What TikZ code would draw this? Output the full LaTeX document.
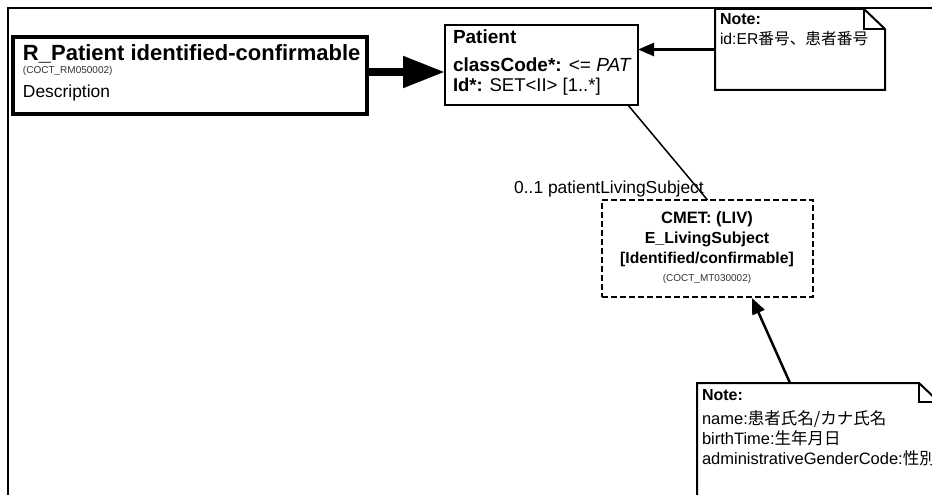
\documentclass[tikz,border=0pt]{standalone}
\usepackage{fontspec}
\setmainfont{Liberation Sans}
\newfontfamily\cjk{Noto Sans CJK JP}
\usetikzlibrary{arrows.meta,calc}
\tikzset{
  txt/.style={inner sep=0pt, outer sep=0pt, anchor=base west},
  ctxt/.style={inner sep=0pt, outer sep=0pt, anchor=base},
  rboxstyle/.style={draw, line width=4pt, rectangle, inner sep=0pt, outer sep=0pt, anchor=north west},
  classbox/.style={draw, line width=2pt, rectangle, inner sep=0pt, outer sep=0pt, anchor=north west},
  cmetbox/.style={draw, line width=2.5pt, dash pattern=on 6pt off 3pt, rectangle, inner sep=0pt, outer sep=0pt, anchor=north west},
  noteframe/.style={rectangle, inner sep=0pt, outer sep=0pt, anchor=north west},
  noteline/.style={line width=2pt, line join=miter},
  bigarrow/.style={line width=8pt, -{Triangle[length=42pt,width=30pt]}},
  notearrow/.style={line width=2.5pt, -{Triangle[length=16pt,width=13pt]}},
  assoc/.style={line width=1.5pt},
  fa/.style={font=\fontsize{#1}{#1}\selectfont},
  fb/.style={font=\bfseries\fontsize{#1}{#1}\selectfont}
}
\begin{document}
\begin{tikzpicture}[x=1pt,y=-1pt]
\useasboundingbox (0,0) rectangle (932,495);
\clip (0,0) rectangle (932,495);
\fill[white] (0,0) rectangle (932,495);
% outer frame
\draw[line width=2pt] (8,495) -- (8,8) -- (932,8);

% R_Patient box
\node[rboxstyle, minimum width=354pt, minimum height=77pt] (rp) at (13,37) {};
\node[txt, fb=22] (rpt) at (23,60) {R\_Patient identified-confirmable};
\node[txt, fa=10, text=black!80] (rpc) at (23,74) {(COCT\_RM050002)};
\node[txt, fa=17.4] (rpd) at (23,97) {Description};

% Patient class
\node[classbox, minimum width=193pt, minimum height=80pt] (pat) at (445,25) {};
\node[txt, fb=19] (patt) at (453,44) {Patient};
\node[txt, fa=19] (pat1) at (453,72) {\bfseries classCode*:\mdseries{} <= \textit{PAT}};
\node[txt, fa=18.5] (pat2) at (453,92) {\bfseries Id*:\mdseries{} SET<II> [1..*]};

% Note 1
\node[noteframe, minimum width=170pt, minimum height=81pt] (n1) at (715,9) {};
\draw[noteline, fill=white] (n1.north west) -- ($(n1.north east)+(-21,0)$) -- ($(n1.north east)+(0,20)$) -- (n1.south east) -- (n1.south west) -- cycle;
\draw[noteline] ($(n1.north east)+(-21,0)$) -- ($(n1.north east)+(-21,20)$) -- ($(n1.north east)+(0,20)$);
\node[txt, fb=16] (n1a) at (720,25) {Note:};
\node[txt, fa=15.7] (n1b) at (720,45) {id:ER{\cjk 番号、患者番号}};

% CMET
\node[cmetbox, minimum width=211pt, minimum height=97pt] (cm) at (602,200) {};
\node[ctxt, fb=16.5] (cm1) at (707,223) {CMET: (LIV)};
\node[ctxt, fb=16] (cm2) at (707,243) {E\_LivingSubject};
\node[ctxt, fb=15.7] (cm3) at (707,263) {[Identified/confirmable]};
\node[ctxt, fa=10, text=black!80] (cm4) at (707,281) {(COCT\_MT030002)};

% Note 2
\node[noteframe, minimum width=243pt, minimum height=130pt] (n2) at (697,383) {};
\draw[noteline, fill=white] (n2.north west) -- ($(n2.north east)+(-21,0)$) -- ($(n2.north east)+(0,20)$) -- (n2.south east) -- (n2.south west) -- cycle;
\draw[noteline] ($(n2.north east)+(-21,0)$) -- ($(n2.north east)+(-21,19)$) -- ($(n2.north east)+(0,19)$);
\node[txt, fb=16] (n2a) at (702,400) {Note:};
\node[txt, fa=16.5] (n2b) at (702,424) {name:{\cjk 患者氏名/カナ氏名}};
\node[txt, fa=16.5] (n2c) at (702,444) {birthTime:{\cjk 生年月日}};
\node[txt, fa=16.5] (n2d) at (702,464) {administrativeGenderCode:{\cjk 性別}};

% connectors
\draw[bigarrow] (rp.east |- 0,72) -- (pat.west |- 0,72);
\draw[notearrow] (n1.west) -- (n1.west -| pat.east);
\draw[assoc] ($(pat.south west)!0.948!(pat.south east)$) -- (cm.north);
\node[inner sep=0pt, anchor=base east, fa=17.4] (lbl) at (704,193) {0..1 patientLivingSubject};
\draw[notearrow] ($(n2.north west)+(93,0)$) -- ($(cm.south west)+(150,1)$);
\end{tikzpicture}
\end{document}
